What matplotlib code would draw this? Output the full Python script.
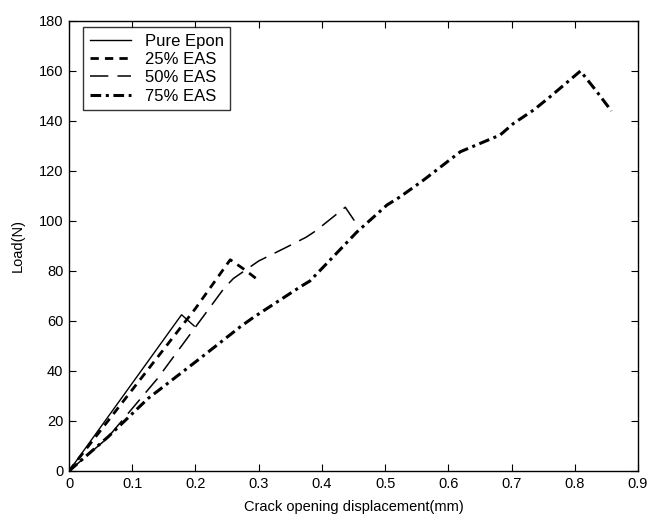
import matplotlib
matplotlib.use("Agg")
import matplotlib.pyplot as plt

plt.rcParams['font.family'] = ['Liberation Sans', 'DejaVu Sans']

# Data
epon_x = [0.0, 0.178, 0.198]
epon_y = [0.0, 62.5, 58.0]

eas25_x = [0.0, 0.2, 0.255, 0.278, 0.301]
eas25_y = [0.0, 65.0, 84.5, 80.5, 76.0]

eas50_x = [0.0, 0.06, 0.14, 0.21, 0.245, 0.26, 0.28, 0.30, 0.34, 0.375, 0.39, 0.437, 0.457]
eas50_y = [0.0, 13.0, 37.0, 61.0, 73.0, 77.0, 80.5, 84.0, 89.0, 93.5, 96.0, 105.5, 98.0]

eas75_x = [0.0, 0.062, 0.125, 0.204, 0.271, 0.292, 0.366, 0.381, 0.413, 0.455, 0.503,
           0.524, 0.561, 0.619, 0.65, 0.682, 0.703, 0.735, 0.761, 0.809, 0.835, 0.858]
eas75_y = [0.0, 13.7, 29.0, 44.4, 57.7, 61.5, 73.7, 76.0, 84.4, 95.5, 106.4,
           109.7, 116.4, 127.7, 131.0, 134.4, 139.0, 144.4, 149.7, 160.0, 151.7, 144.0]

labels = ["Pure Epon", "25% EAS", "50% EAS", "75% EAS"]
xticks = [0, 0.1, 0.2, 0.3, 0.4, 0.5, 0.6, 0.7, 0.8, 0.9]
xtick_labels = ["0", "0.1", "0.2", "0.3", "0.4", "0.5", "0.6", "0.7", "0.8", "0.9"]
yticks = [0, 20, 40, 60, 80, 100, 120, 140, 160, 180]

fig = plt.figure(figsize=(6.5, 5.17), dpi=100)
ax = fig.add_axes([0.1062, 0.089, 0.8753, 0.8704])

ax.plot(epon_x, epon_y, color='black', lw=1.0, ls='-', label=labels[0])
ax.plot(eas25_x, eas25_y, color='black', lw=2.0, ls=(0, (3, 2.2)), label=labels[1])
ax.plot(eas50_x, eas50_y, color='black', lw=1.1, ls=(0, (12, 6)), label=labels[2])
ax.plot(eas75_x, eas75_y, color='black', lw=2.2, ls=(0, (3.5, 1.5, 1, 1.5)), label=labels[3])

ax.set_xlim(0, 0.9)
ax.set_ylim(0, 180)
ax.set_xticks(xticks)
ax.set_xticklabels(xtick_labels)
ax.set_yticks(yticks)
ax.tick_params(direction='in', top=True, right=True, labelsize=10.5, length=5, width=0.8, pad=4)
for s in ax.spines.values():
    s.set_linewidth(1.0)

ax.set_xlabel("Crack opening displacement(mm)", fontsize=10.5, labelpad=7)
ax.set_ylabel("Load(N)", fontsize=10.5, labelpad=10)

leg = ax.legend(loc='upper left', bbox_to_anchor=(0.0246, 0.9867), borderaxespad=0,
                fontsize=12, frameon=True, fancybox=False,
                edgecolor='black', handlelength=2.5, borderpad=0.4,
                labelspacing=0.2, handletextpad=0.8)
leg.get_frame().set_linewidth(1.0)

fig.savefig("out.png", dpi=100, facecolor='white')
